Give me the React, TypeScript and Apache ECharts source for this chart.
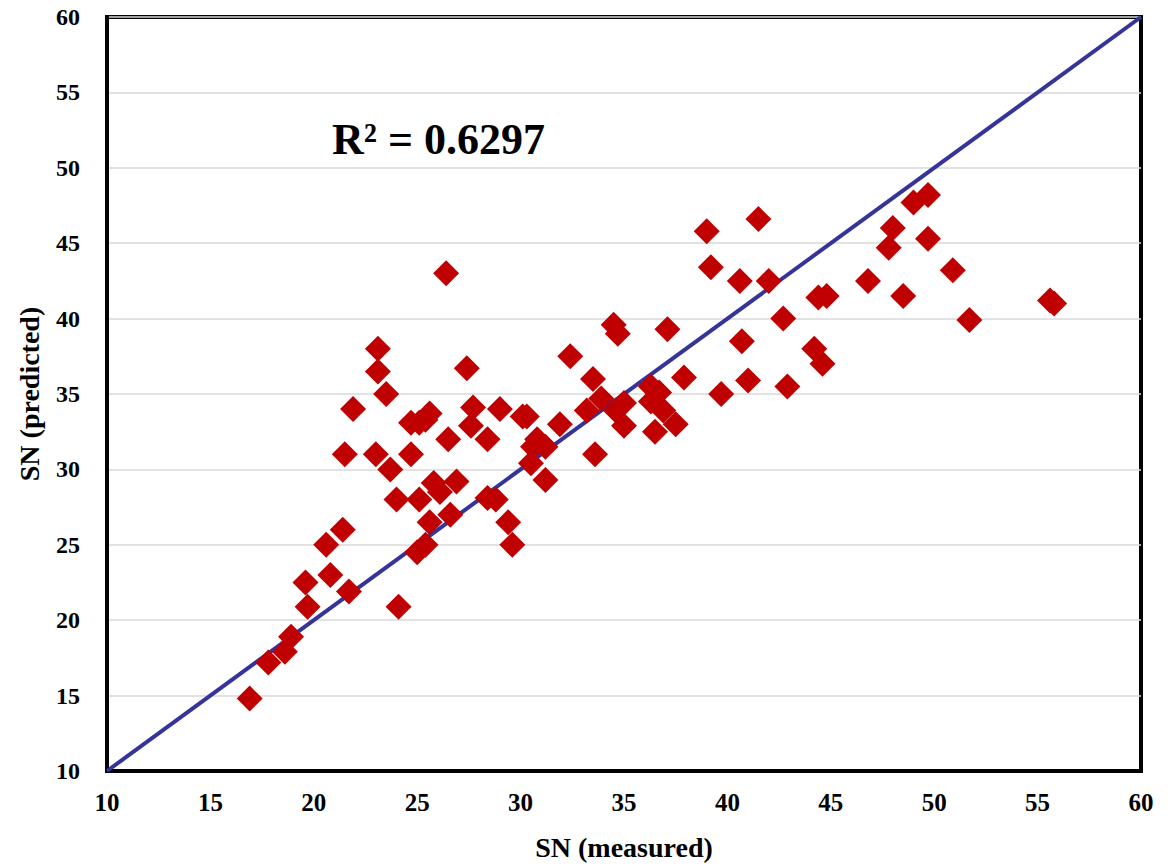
import React, { useEffect, useRef } from "react";
import * as echarts from "echarts";

const measured: number[] = [
  16.9, 17.8, 18.6, 18.9, 19.6, 19.7, 20.6, 20.8, 21.4, 21.7, 21.5, 21.9, 23.1, 23.1, 23.0, 23.5,
  23.7, 24.1, 24.0, 24.7, 24.7, 25.0, 25.1, 25.1, 25.4, 25.4, 25.6, 25.6, 25.8, 26.1, 26.4, 26.5,
  26.6, 26.9, 27.4, 27.6, 27.7, 28.4, 28.4, 28.8, 29.0, 29.4, 29.6, 30.1, 30.3, 30.5, 30.6, 30.8,
  31.2, 31.2, 31.9, 32.4, 33.2, 33.5, 33.6, 33.9, 34.5, 34.7, 34.6, 35.0, 35.0, 36.3, 36.3, 36.5,
  36.7, 36.9, 37.1, 37.5, 37.9, 39.0, 39.2, 39.7, 40.6, 40.7, 41.0, 41.5, 42.0, 42.7, 42.9, 44.2,
  44.6, 44.4, 44.8, 46.8, 47.8, 48.0, 48.5, 49.0, 49.7, 49.7, 50.9, 51.7, 55.6, 55.8,
];
const predicted: number[] = [
  14.8, 17.2, 17.9, 18.9, 22.5, 20.9, 25.0, 23.0, 26.0, 21.9, 31.0, 34.0, 38.0, 36.5, 31.0, 35.0,
  30.0, 20.9, 28.0, 33.1, 31.0, 24.5, 28.0, 33.1, 33.3, 25.0, 26.5, 33.7, 29.1, 28.5, 43.0, 32.0,
  27.0, 29.2, 36.7, 32.9, 34.1, 32.0, 28.1, 28.0, 34.0, 26.5, 25.0, 33.5, 33.5, 30.4, 31.5, 32.0,
  31.5, 29.3, 33.0, 37.5, 33.9, 36.0, 31.0, 34.7, 39.6, 39.0, 33.9, 34.4, 32.9, 35.5, 34.5, 32.5,
  35.1, 33.9, 39.3, 33.0, 36.1, 45.8, 43.4, 35.0, 42.5, 38.5, 35.9, 46.6, 42.5, 40.0, 35.5, 38.0,
  37.0, 41.4, 41.5, 42.5, 44.7, 46.0, 41.5, 47.7, 48.2, 45.3, 43.2, 39.9, 41.2, 41.0,
];
const lineX: number[] = [10, 60];
const lineY: number[] = [10, 60];
const r2Label = "R² = 0.6297";
const xTitle = "SN (measured)";
const yTitle = "SN (predicted)";

const FONT = "'Liberation Serif', 'Times New Roman', serif";

export default function App() {
  const ref = useRef<HTMLDivElement>(null);
  useEffect(() => {
    if (!ref.current) return;
    const chart = echarts.init(ref.current, undefined, { renderer: "svg" });
    const points = measured.map((m, i) => [m, predicted[i]]);
    const line = lineX.map((x, i) => [x, lineY[i]]);
    chart.setOption({
      animation: false,
      backgroundColor: "#ffffff",
      grid: {
        left: 107,
        right: 33,
        top: 17,
        bottom: 97,
        show: true,
        borderColor: "#000000",
        borderWidth: 4,
        backgroundColor: "transparent",
      },
      xAxis: {
        type: "value",
        min: 10,
        max: 60,
        interval: 5,
        name: xTitle,
        nameLocation: "middle",
        nameGap: 62,
        nameTextStyle: { fontFamily: FONT, fontWeight: "bold", fontSize: 28, color: "#000" },
        axisLine: { show: true, lineStyle: { color: "#000", width: 4 } },
        axisTick: { show: false },
        splitLine: { show: false },
        axisLabel: { fontFamily: FONT, fontWeight: "bold", fontSize: 25, color: "#000", margin: 19 },
      },
      yAxis: {
        type: "value",
        min: 10,
        max: 60,
        interval: 5,
        name: yTitle,
        nameLocation: "middle",
        nameGap: 64,
        nameRotate: 90,
        nameTextStyle: { fontFamily: FONT, fontWeight: "bold", fontSize: 28, color: "#000" },
        axisLine: { show: true, lineStyle: { color: "#000", width: 4 } },
        axisTick: { show: false },
        splitLine: { show: true, lineStyle: { color: "#d9d9d9", width: 1.5 } },
        axisLabel: { fontFamily: FONT, fontWeight: "bold", fontSize: 24, color: "#000", margin: 27 },
      },
      series: [
        {
          type: "line",
          data: line,
          showSymbol: false,
          symbol: "none",
          lineStyle: { color: "#343499", width: 4 },
          z: 2,
        },
        {
          type: "scatter",
          data: points,
          symbol: "diamond",
          symbolSize: 26,
          itemStyle: { color: "#c00000", opacity: 1 },
          emphasis: { disabled: true },
          z: 3,
        },
      ],
      graphic: [
        {
          type: "text",
          left: 332,
          top: 117,
          style: {
            text: r2Label,
            fontFamily: FONT,
            fontWeight: "bold",
            fontSize: 44,
            fill: "#000",
          },
        },
      ],
    });
    return () => chart.dispose();
  }, []);
  return (
    <div
      ref={ref}
      style={{ position: "fixed", left: 0, top: 0, width: 1174, height: 868, background: "#fff" }}
    />
  );
}
